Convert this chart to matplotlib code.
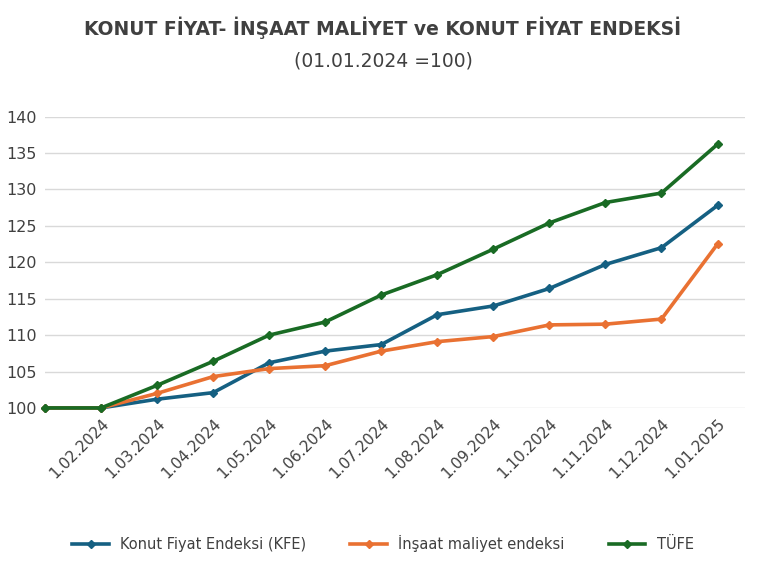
import matplotlib
matplotlib.use("Agg")
import matplotlib.pyplot as plt

labels = ["", "1.02.2024", "1.03.2024", "1.04.2024", "1.05.2024", "1.06.2024", "1.07.2024",
          "1.08.2024", "1.09.2024", "1.10.2024", "1.11.2024", "1.12.2024", "1.01.2025"]
kfe = [100, 100, 101.2, 102.1, 106.2, 107.8, 108.7, 112.8, 114.0, 116.4, 119.7, 122.0, 127.8]
insaat = [100, 100, 102.0, 104.3, 105.4, 105.8, 107.8, 109.1, 109.8, 111.4, 111.5, 112.2, 122.5]
tufe = [100, 100, 103.1, 106.4, 110.0, 111.8, 115.5, 118.3, 121.8, 125.4, 128.2, 129.5, 136.2]

fig = plt.figure(figsize=(7.66, 5.77), dpi=100)
ax = fig.add_axes([45/766, 0.293, 700/766, 0.505])
x = range(len(labels))
for vals, c, lab in [(kfe, "#156082", "Konut Fiyat Endeksi (KFE)"),
                     (insaat, "#E97132", "İnşaat maliyet endeksi"),
                     (tufe, "#196B24", "TÜFE")]:
    ax.plot(x, vals, color=c, lw=2.6, marker="D", ms=4, label=lab, clip_on=False)

ax.set_xlim(0.228, 12.49)
ax.set_ylim(100, 140)
ax.set_yticks(range(100, 141, 5))
ax.set_xticks(list(x))
ax.set_xticklabels(labels, rotation=45, ha="right", rotation_mode="anchor", fontsize=11, color="#404040")
ax.tick_params(axis="y", labelsize=11.5, labelcolor="#404040", length=0, pad=6)
ax.tick_params(axis="x", length=0, pad=6)
ax.yaxis.grid(True, color="#d9d9d9", lw=1)
ax.set_axisbelow(True)
for s in ax.spines.values():
    s.set_visible(False)

fig.text(0.5, 0.94, "KONUT FİYAT- İNŞAAT MALİYET ve KONUT FİYAT ENDEKSİ", ha="center",
         fontsize=13.5, fontweight="bold", color="#404040")
fig.text(0.5, 0.885, "(01.01.2024 =100)", ha="center", fontsize=13.5, color="#404040")
fig.legend(loc="center", bbox_to_anchor=(0.5, 0.058), ncol=3, frameon=False, fontsize=10.5,
           labelcolor="#404040", handlelength=2.5, columnspacing=3)
fig.savefig("out.png", dpi=100)
